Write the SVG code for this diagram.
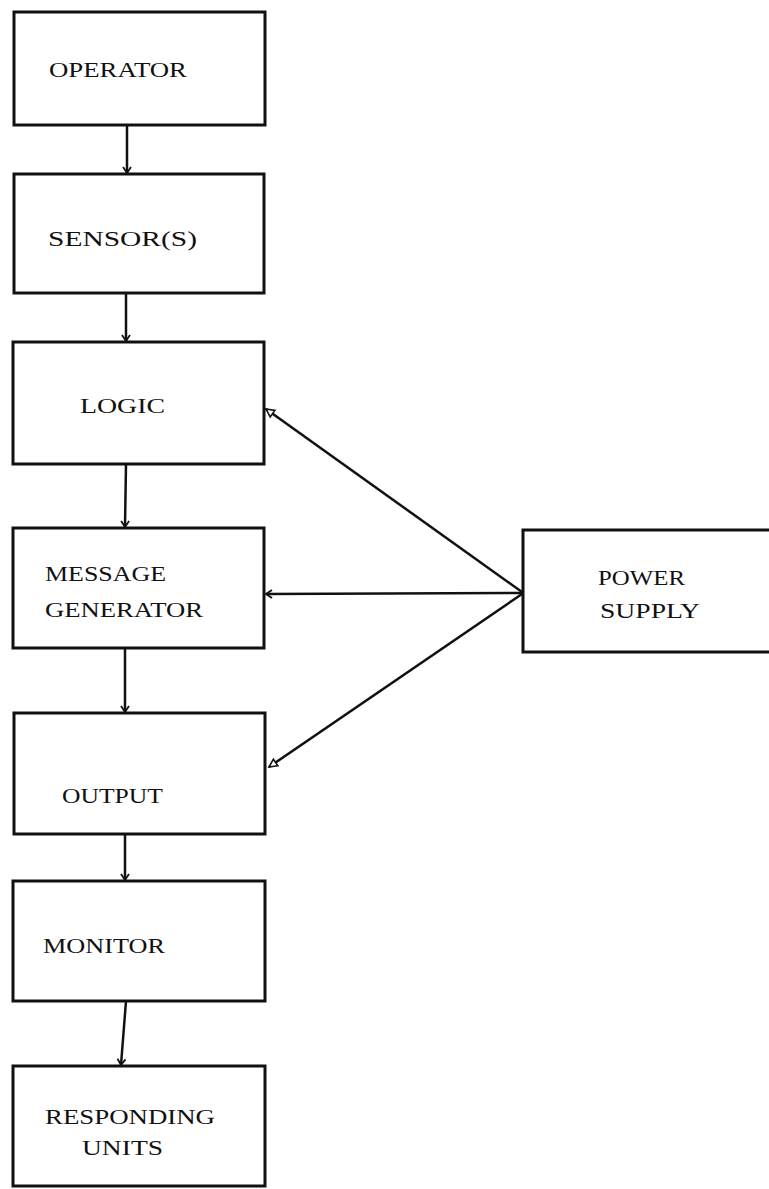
<svg xmlns="http://www.w3.org/2000/svg" width="769" height="1189" viewBox="0 0 769 1189">
<style>
.box{fill:none;stroke:#111;stroke-width:3}
.lbl{font-family:"Liberation Serif","DejaVu Serif",serif;font-size:22px;fill:#111}
.con{fill:none;stroke:#111;stroke-width:2.5}
</style>
<defs>
<marker id="v" viewBox="-8 -6 10 12" refX="0" refY="0" markerWidth="10" markerHeight="12" markerUnits="userSpaceOnUse" orient="auto">
<path d="M-6,-4 L0,0 L-6,4" fill="none" stroke="#111" stroke-width="1.8"/>
</marker>
<marker id="tri" viewBox="-10 -6 12 12" refX="0" refY="0" markerWidth="12" markerHeight="12" markerUnits="userSpaceOnUse" orient="auto">
<path d="M-8,-4 L0,0 L-8,4 Z" fill="#fff" stroke="#111" stroke-width="1.6"/>
</marker>
</defs>
<rect width="769" height="1189" fill="#fff"/>
<g id="connectors">
<line class="con" x1="127" y1="125" x2="127" y2="173" marker-end="url(#v)"/>
<line class="con" x1="126" y1="293" x2="126" y2="341" marker-end="url(#v)"/>
<line class="con" x1="126" y1="464" x2="125" y2="527" marker-end="url(#v)"/>
<line class="con" x1="125" y1="648" x2="125" y2="712" marker-end="url(#v)"/>
<line class="con" x1="125" y1="834" x2="125" y2="880" marker-end="url(#v)"/>
<line class="con" x1="126" y1="1001" x2="121" y2="1065" marker-end="url(#v)"/>
<line class="con" x1="522" y1="592" x2="266" y2="409" marker-end="url(#tri)"/>
<line class="con" x1="522" y1="593" x2="266" y2="594" marker-end="url(#v)"/>
<line class="con" x1="522" y1="594" x2="269" y2="767" marker-end="url(#tri)"/>
</g>
<g id="operator">
<rect class="box" x="14" y="12" width="251" height="113"/>
<text class="lbl" x="49" y="77" textLength="138" lengthAdjust="spacingAndGlyphs">OPERATOR</text>
</g>
<g id="sensors">
<rect class="box" x="14" y="174" width="250" height="119"/>
<text class="lbl" x="48" y="246" textLength="149" lengthAdjust="spacingAndGlyphs">SENSOR(S)</text>
</g>
<g id="logic">
<rect class="box" x="13" y="342" width="251" height="122"/>
<text class="lbl" x="80" y="413" textLength="85" lengthAdjust="spacingAndGlyphs">LOGIC</text>
</g>
<g id="message-generator">
<rect class="box" x="13" y="528" width="251" height="120"/>
<text class="lbl" x="45" y="581" textLength="121" lengthAdjust="spacingAndGlyphs">MESSAGE</text>
<text class="lbl" x="45" y="617" textLength="158" lengthAdjust="spacingAndGlyphs">GENERATOR</text>
</g>
<g id="output">
<rect class="box" x="14" y="713" width="251" height="121"/>
<text class="lbl" x="62" y="803" textLength="101" lengthAdjust="spacingAndGlyphs">OUTPUT</text>
</g>
<g id="monitor">
<rect class="box" x="13" y="881" width="252" height="120"/>
<text class="lbl" x="43" y="953" textLength="122" lengthAdjust="spacingAndGlyphs">MONITOR</text>
</g>
<g id="responding-units">
<rect class="box" x="13" y="1066" width="252" height="120"/>
<text class="lbl" x="45" y="1124" textLength="170" lengthAdjust="spacingAndGlyphs">RESPONDING</text>
<text class="lbl" x="82" y="1155" textLength="81" lengthAdjust="spacingAndGlyphs">UNITS</text>
</g>
<g id="power-supply">
<path class="box" d="M775,530 L523,530 L523,652 L775,652"/>
<text class="lbl" x="598" y="585" textLength="87" lengthAdjust="spacingAndGlyphs">POWER</text>
<text class="lbl" x="600" y="618" textLength="100" lengthAdjust="spacingAndGlyphs">SUPPLY</text>
</g>
</svg>
